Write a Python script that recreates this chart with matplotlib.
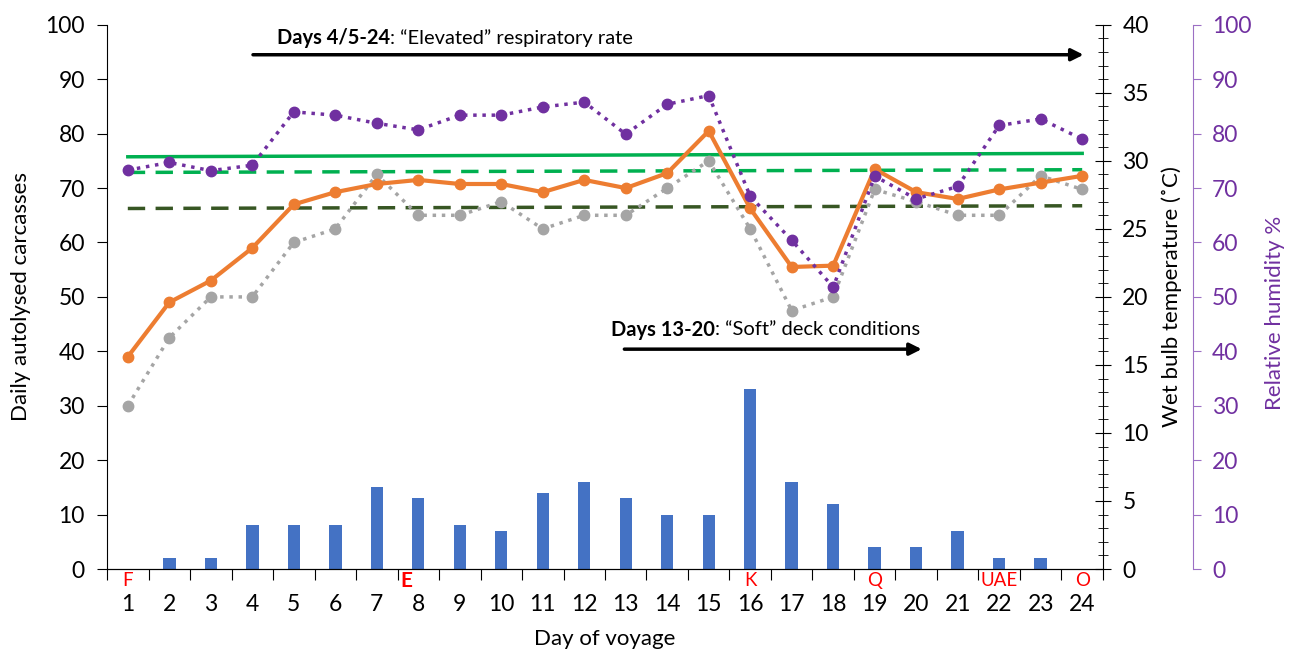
import matplotlib.pyplot as plt
import numpy as np

plt.rcParams['font.family'] = ['Lato', 'DejaVu Sans']

# data
days = list(range(1, 25))
carcasses = [0, 2, 2, 8, 8, 8, 15, 13, 8, 7, 14, 16, 13, 10, 10, 33, 16, 12, 4, 4, 7, 2, 2, 0]
wet_bulb = [15.6, 19.6, 21.2, 23.6, 26.8, 27.7, 28.3, 28.6, 28.3, 28.3, 27.7, 28.6, 28.0,
            29.1, 32.2, 26.5, 22.2, 22.3, 29.4, 27.7, 27.2, 27.9, 28.4, 28.9]
grey_temp = [12.0, 17.0, 20.0, 20.0, 24.0, 25.0, 29.0, 26.0, 26.0, 27.0, 25.0, 26.0, 26.0,
             28.0, 30.0, 25.0, 19.0, 20.0, 27.9, 27.0, 26.0, 26.0, 28.9, 27.9]
humidity = [73.3, 74.7, 73.2, 74.2, 84.0, 83.4, 81.9, 80.7, 83.4, 83.4, 84.9, 85.8, 79.9,
            85.4, 87.0, 68.5, 60.4, 51.8, 72.2, 68.0, 70.3, 81.5, 82.7, 79.0]
# start / end values of the reference lines (temperature axis)
green_solid = [30.3, 30.55]
green_dash = [29.15, 29.35]
dark_dash = [26.5, 26.7]
ports = {1: 'F', 7.7: 'E', 16: 'K', 19: 'Q', 22: 'UAE', 24: 'O'}

TICK = 16.5
LAB = 16

fig = plt.figure(figsize=(12.93, 6.53), dpi=100)
ax = fig.add_axes([0.0828, 0.1286, 0.7702, 0.8334])
ax2 = ax.twinx()
ax3 = ax.twinx()

# bars
ax.bar(days, carcasses, width=0.3, color='#4472C4', zorder=2)
ax.set_xlim(0.5, 24.5)
ax.set_ylim(0, 100)
ax.set_yticks(range(0, 101, 10))
ax.tick_params(axis='y', labelsize=TICK, direction='out', length=7, pad=9)
ax.set_ylabel('Daily autolysed carcasses', fontsize=LAB, labelpad=10)

# x axis: ticks between categories, labels at the categories
ax.set_xticks(np.arange(0.5, 25, 1))
ax.set_xticklabels([])
ax.tick_params(axis='x', which='major', direction='out', length=8)
ax.set_xticks(days, minor=True)
ax.set_xticklabels([str(d) for d in days], minor=True, fontsize=TICK)
ax.tick_params(axis='x', which='minor', length=0, pad=18)
ax.set_xlabel('Day of voyage', fontsize=LAB, labelpad=10)
for d, name in ports.items():
    ax.text(d, -0.022, name, transform=ax.get_xaxis_transform(), color='red',
            ha='center', va='center', fontsize=13.5 if name != 'E' else 15,
            fontweight='bold' if name == 'E' else 'normal')

for s in ['top', 'right']:
    ax.spines[s].set_visible(False)

# temperature axis
x_ends = [days[0], days[-1]]
ax2.plot(x_ends, green_solid, color='#00B050', lw=2.5)
ax2.plot(x_ends, green_dash, color='#00B050', lw=2.5, ls=(0, (5, 3)))
ax2.plot(x_ends, dark_dash, color='#375623', lw=2.5, ls=(0, (5, 3)))
ax2.plot(days, grey_temp, color='#A5A5A5', lw=2.5, ls=':', marker='o', ms=7.5)
ax2.plot(days, wet_bulb, color='#ED7D31', lw=3, marker='o', ms=7.5)
ax2.set_ylim(0, 40)
ax2.set_yticks(range(0, 41, 5))
ax2.set_yticks(range(0, 41, 1), minor=True)
ax2.tick_params(axis='y', which='major', direction='inout', length=12, labelsize=TICK, pad=8)
ax2.tick_params(axis='y', which='minor', direction='inout', length=7)
ax2.set_ylabel('Wet bulb temperature (˚C)', fontsize=LAB, labelpad=9)
for s in ['top', 'left']:
    ax2.spines[s].set_visible(False)

# humidity axis
ax3.plot(days, humidity, color='#7030A0', lw=2.5, ls=':', marker='o', ms=7.5)
ax3.set_ylim(0, 100)
ax3.set_yticks(range(0, 101, 10))
ax3.spines['right'].set_position(('axes', 1.09))
ax3.spines['right'].set_color('#9C6FC4')
ax3.tick_params(axis='y', colors='#9C6FC4', labelcolor='#7030A0', labelsize=TICK,
                length=6, pad=8)
ax3.set_ylabel('Relative humidity %', fontsize=LAB, color='#7030A0')
ax3.yaxis.set_label_coords(1.163, 0.47)
for s in ['top', 'left', 'bottom']:
    ax3.spines[s].set_visible(False)

# annotations
ax3.annotate('', xy=(24.1, 94.5), xytext=(3.95, 94.5),
             arrowprops=dict(arrowstyle='-|>', color='black', lw=2.5, mutation_scale=18))
ax3.annotate('', xy=(20.2, 40.4), xytext=(12.9, 40.4),
             arrowprops=dict(arrowstyle='-|>', color='black', lw=2.5, mutation_scale=18))

t1 = ax3.text(4.6, 97.6, 'Days 4/5-24', fontsize=14.5, fontweight='bold', va='center', ha='left')
t2 = ax3.text(12.65, 44.0, 'Days 13-20', fontsize=14.5, fontweight='bold', va='center', ha='left')
fig.canvas.draw()
r = fig.canvas.get_renderer()
for t, rest in [(t1, ': “Elevated” respiratory rate'), (t2, ': “Soft” deck conditions')]:
    bb = t.get_window_extent(renderer=r)
    x_end = ax3.transData.inverted().transform((bb.x1, bb.y0))[0]
    ax3.text(x_end, t.get_position()[1], rest, fontsize=14.5, va='center', ha='left')

fig.savefig('out.png', dpi=100)
